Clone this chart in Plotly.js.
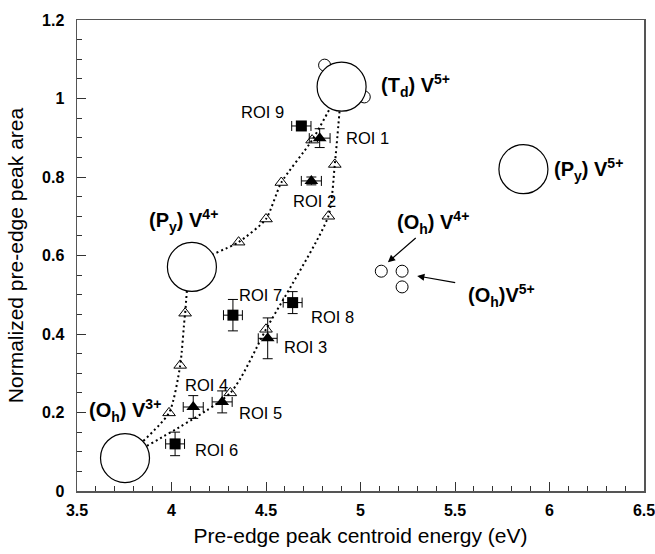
<!DOCTYPE html>
<html>
<head>
<meta charset="utf-8">
<script src="https://cdn.plot.ly/plotly-3.0.1.min.js"></script>
<style>html,body{margin:0;padding:0;background:#fff;}#chart{width:655px;height:554px;}</style>
</head>
<body>
<div id="chart"></div>
<script>
// Reference compounds (large circles)
const refX = [3.754, 4.108, 4.90, 5.862];
const refY = [0.084, 0.571, 1.03, 0.82];
// Small Td reference points
const tdSmallX = [4.81, 5.02];
const tdSmallY = [1.085, 1.004];
// Oh V4+/V5+ small reference points
const ohX = [5.11, 5.22, 5.22];
const ohY = [0.56, 0.56, 0.52];
// Mixture trend A (Oh V3+ -> Py V4+ -> Td V5+)
const pathAX = [3.754, 3.987, 4.046, 4.072, 4.108, 4.355, 4.50, 4.581, 4.744, 4.90];
const pathAY = [0.084, 0.199, 0.32, 0.453, 0.571, 0.634, 0.693, 0.786, 0.894, 1.03];
// Mixture trend B (Oh V3+ -> Td V5+)
const pathBX = [3.754, 4.311, 4.50, 4.83, 4.864, 4.90];
const pathBY = [0.084, 0.25, 0.412, 0.70, 0.832, 1.03];
// Open triangles (mixtures)
const mixX = [3.987, 4.046, 4.072, 4.355, 4.50, 4.581, 4.744, 4.311, 4.50, 4.83, 4.864];
const mixY = [0.199, 0.32, 0.453, 0.634, 0.693, 0.786, 0.894, 0.25, 0.412, 0.70, 0.832];
// ROIs with triangles (1-5)
const triLabels = ["ROI 1", "ROI 2", "ROI 3", "ROI 4", "ROI 5"];
const triX = [4.784, 4.74, 4.509, 4.115, 4.268];
const triY = [0.899, 0.79, 0.389, 0.214, 0.227];
const triEx = [0.055, 0.053, 0.05, 0.053, 0.053];
const triEy = [0.024, 0.01, 0.052, 0.029, 0.028];
// ROIs with squares (6-9)
const sqLabels = ["ROI 6", "ROI 7", "ROI 8", "ROI 9"];
const sqX = [4.019, 4.325, 4.641, 4.687];
const sqY = [0.120, 0.448, 0.48, 0.93];
const sqEx = [0.05, 0.05, 0.05, 0.051];
const sqEy = [0.03, 0.04, 0.028, 0.008];

const FONT = "Liberation Sans, Arial, Helvetica, sans-serif";
const dotLine = {color: "#000", width: 2, dash: "2px,3px", shape: "spline", smoothing: 0.6};

const traces = [
  {x: pathAX, y: pathAY, mode: "lines", line: dotLine, hoverinfo: "skip"},
  {x: pathBX, y: pathBY, mode: "lines", line: dotLine, hoverinfo: "skip"},
  {x: tdSmallX, y: tdSmallY, mode: "markers", marker: {symbol: "circle", size: 12, color: "#fff", line: {color: "#000", width: 1}}},
  {x: refX, y: refY, mode: "markers", marker: {symbol: "circle", size: 49, color: "#fff", line: {color: "#000", width: 1.2}}},
  {x: ohX, y: ohY, mode: "markers", marker: {symbol: "circle", size: 12, color: "#fff", line: {color: "#000", width: 1}}},
  {x: mixX, y: mixY, mode: "markers", marker: {symbol: "triangle-up-open", size: 11, color: "#000", line: {color: "#000", width: 1}}},
  {x: triX, y: triY, mode: "markers", marker: {symbol: "triangle-up", size: 12, color: "#000"},
   error_x: {type: "data", array: triEx, visible: true, color: "#000", thickness: 1, width: 5},
   error_y: {type: "data", array: triEy, visible: true, color: "#000", thickness: 1, width: 5}},
  {x: sqX, y: sqY, mode: "markers", marker: {symbol: "square", size: 11, color: "#000"},
   error_x: {type: "data", array: sqEx, visible: true, color: "#000", thickness: 1, width: 5},
   error_y: {type: "data", array: sqEy, visible: true, color: "#000", thickness: 1, width: 5}}
];

function lab(text, x, y, bold) {
  return {text: text, x: x, y: y, xref: "x", yref: "y", xanchor: "left", yanchor: "middle", showarrow: false,
          font: {family: FONT, size: bold ? 20 : 16.5, color: "#000", weight: bold ? "bold" : "normal"}};
}
function arrow(x, y, ax, ay) {
  return {text: "", x: x, y: y, ax: ax, ay: ay, xref: "x", yref: "y", axref: "x", ayref: "y",
          showarrow: true, arrowhead: 2, arrowsize: 1.2, arrowwidth: 1.2, arrowcolor: "#000"};
}

const annotations = [
  lab("ROI 9", 4.359, 0.966), lab("ROI 1", 4.913, 0.899), lab("ROI 2", 4.634, 0.739),
  lab("ROI 7", 4.344, 0.499), lab("ROI 8", 4.728, 0.443), lab("ROI 3", 4.586, 0.367),
  lab("ROI 4", 4.059, 0.270), lab("ROI 5", 4.349, 0.199), lab("ROI 6", 4.112, 0.104),
  lab("(T<sub>d</sub>) V<sup>5+</sup>", 5.10, 1.032, true),
  lab("(P<sub>y</sub>) V<sup>5+</sup>", 6.015, 0.818, true),
  lab("(P<sub>y</sub>) V<sup>4+</sup>", 3.87, 0.688, true),
  lab("(O<sub>h</sub>) V<sup>3+</sup>", 3.555, 0.204, true),
  lab("(O<sub>h</sub>) V<sup>4+</sup>", 5.18, 0.685, true),
  lab("(O<sub>h</sub>)V<sup>5+</sup>", 5.556, 0.497, true),
  arrow(5.145, 0.583, 5.30, 0.648),
  arrow(5.30, 0.548, 5.509, 0.530)
];

const axisCommon = {
  showgrid: false, zeroline: false, showline: true, linecolor: "#555", linewidth: 1.5, mirror: true,
  ticks: "inside", ticklen: 9, tickwidth: 1, tickcolor: "#333", ticklabeloverflow: "allow",
  tickfont: {family: FONT, size: 16, color: "#000", weight: "bold"}
};

const layout = {
  width: 655, height: 554,
  margin: {l: 77, r: 11, t: 20, b: 63},
  paper_bgcolor: "#fff", plot_bgcolor: "#fff",
  showlegend: false,
  font: {family: FONT, color: "#000"},
  xaxis: Object.assign({}, axisCommon, {
    range: [3.5, 6.5], tick0: 3.5, dtick: 0.5, ticklabelstandoff: 4,
    minor: {dtick: 0.1, ticks: "inside", ticklen: 5, tickwidth: 1, tickcolor: "#333"},
    title: {text: "Pre-edge peak centroid energy (eV)", font: {family: FONT, size: 21, color: "#000"}, standoff: 10}
  }),
  yaxis: Object.assign({}, axisCommon, {
    range: [0, 1.2], tick0: 0, dtick: 0.2, ticklabelstandoff: 8,
    minor: {dtick: 0.05, ticks: "inside", ticklen: 5, tickwidth: 1, tickcolor: "#333"},
    title: {text: "Normalized pre-edge peak area", font: {family: FONT, size: 21, color: "#000"}, standoff: 12}
  }),
  annotations: annotations
};

Plotly.newPlot("chart", traces, layout, {staticPlot: true, displayModeBar: false});
</script>
</body>
</html>
